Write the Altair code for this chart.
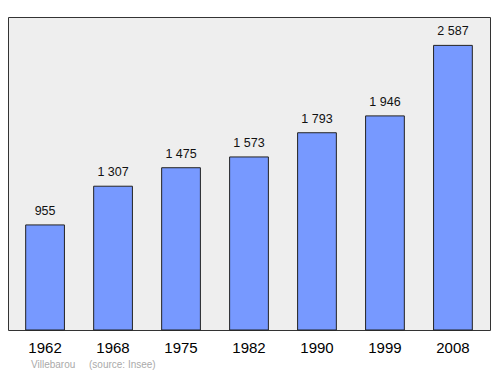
import altair as alt
import pandas as pd

years = ["1962", "1968", "1975", "1982", "1990", "1999", "2008"]
population = [955, 1307, 1475, 1573, 1793, 1946, 2587]
labels = ["955", "1 307", "1 475", "1 573", "1 793", "1 946", "2 587"]
footer_place = "Villebarou"
footer_source = "(source: Insee)"

df = pd.DataFrame({"year": years, "pop": population, "label": labels})

x = alt.X("year:N", sort=years,
          scale=alt.Scale(paddingInner=0.43, paddingOuter=0.26),
          axis=alt.Axis(title=None, labelAngle=0, domain=False, ticks=False,
                        labelFontSize=15, labelColor="#000", labelPadding=10,
                        labelFont="Liberation Sans"))
y = alt.Y("pop:Q", scale=alt.Scale(domain=[0, 2845], nice=False), axis=None)

bars = alt.Chart(df).mark_bar(color="#7799ff", stroke="#222", strokeWidth=1).encode(x=x, y=y)
text = alt.Chart(df).mark_text(dy=-14, fontSize=12.5, font="Liberation Sans", color="#111").encode(
    x=x, y=y, text="label:N")

foot1 = alt.Chart(pd.DataFrame({"t": [footer_place]})).mark_text(
    align="left", fontSize=10, color="#aaaaaa", font="Liberation Sans").encode(
    x=alt.value(23), y=alt.value(348), text="t:N")
foot2 = alt.Chart(pd.DataFrame({"t": [footer_source]})).mark_text(
    align="left", fontSize=10, color="#aaaaaa", font="Liberation Sans").encode(
    x=alt.value(81), y=alt.value(348), text="t:N")

chart = alt.layer(bars, text, foot1, foot2).properties(
    width=482, height=313,
    autosize=alt.AutoSizeParams(type="none"),
    padding={"left": 0, "top": 9, "right": 2, "bottom": 44},
    background="white",
).configure_view(fill="#eeeeee", stroke="#333333", strokeWidth=1)

chart.save("out.html", embed_options={"renderer": "svg", "actions": False})
